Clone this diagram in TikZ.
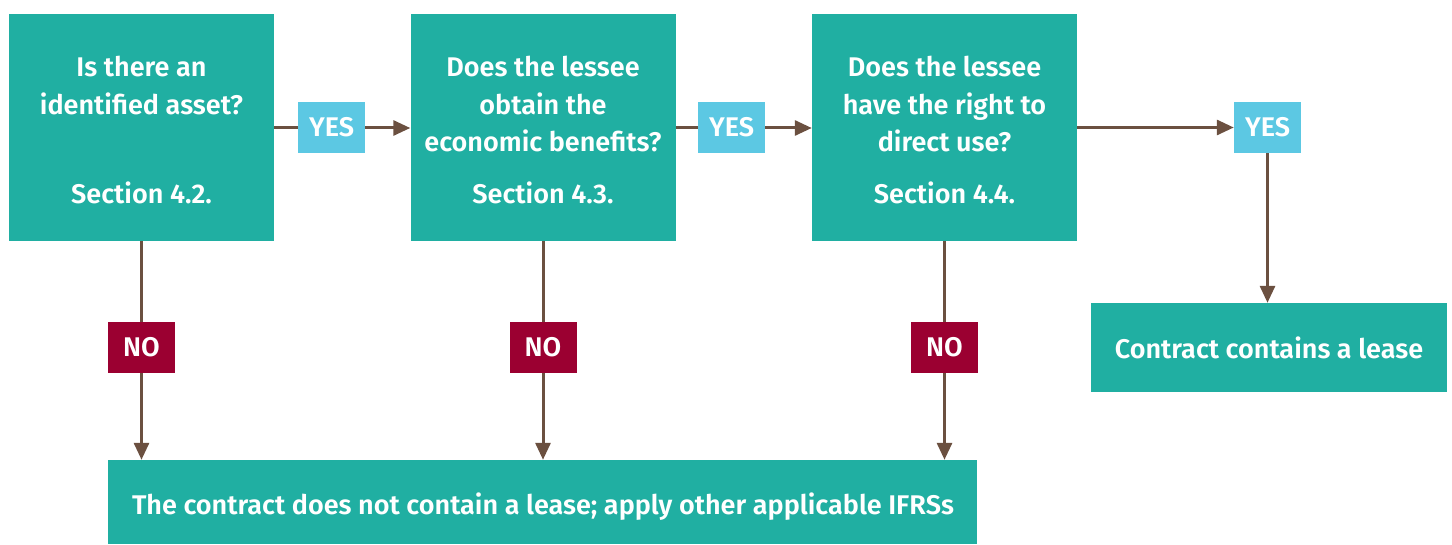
\documentclass[tikz,border=0pt]{standalone}
\usepackage{fontspec}
\setmainfont{Fira Sans}[UprightFont=* SemiBold, BoldFont=* Bold]
\usetikzlibrary{arrows.meta}
\definecolor{teal1}{RGB}{32,175,162}
\definecolor{yesblue}{RGB}{92,200,227}
\definecolor{nored}{RGB}{155,0,49}
\definecolor{arrowbrown}{RGB}{107,80,64}
\tikzset{
  qbox/.style={fill=teal1, draw=none, minimum width=265pt, minimum height=227pt, inner sep=0pt},
  txt/.style={text=white, font=\fontsize{27}{32}\selectfont, anchor=base, inner sep=0pt},
  yestag/.style={fill=yesblue, text=white, minimum width=67pt, minimum height=51pt, inner sep=0pt, font=\fontsize{27}{32}\selectfont},
  notag/.style={fill=nored, text=white, minimum width=67pt, minimum height=51pt, inner sep=0pt, font=\fontsize{27}{32}\selectfont},
  flow/.style={draw=arrowbrown, line width=3pt, -{Triangle[length=17pt,width=15pt]}},
  plain/.style={draw=arrowbrown, line width=3pt}
}
\begin{document}
\begin{tikzpicture}[x=1pt,y=-1pt]
\useasboundingbox (0,0) rectangle (1452,545);
% question boxes
\node[qbox] (q1) at (141.5,127.5) {};
\node[qbox] (q2) at (543,127.5) {};
\node[qbox] (q3) at (944.5,127.5) {};
% outcome boxes
\node[fill=teal1, minimum width=869pt, minimum height=84pt, inner sep=0pt] (nolease) at (542.5,502) {};
\node[fill=teal1, minimum width=356pt, minimum height=89pt, inner sep=0pt] (lease) at (1269,347.5) {};
% box texts
\node[txt] (t1a) at (141.5,77) {Is there an};
\node[txt] (t1b) at (141.5,115) {identified asset?};
\node[txt] (t1c) at (141.5,204) {Section 4.2.};
\node[txt] (t2a) at (543,77) {Does the lessee};
\node[txt] (t2b) at (543,115) {obtain the};
\node[txt] (t2c) at (543,152) {economic benefits?};
\node[txt] (t2d) at (543,204) {Section 4.3.};
\node[txt] (t3a) at (944.5,77) {Does the lessee};
\node[txt] (t3b) at (944.5,115) {have the right to};
\node[txt] (t3c) at (944.5,152) {direct use?};
\node[txt] (t3d) at (944.5,204) {Section 4.4.};
\node[text=white, font=\fontsize{27}{32}\selectfont, inner sep=0pt] (tno) at (543,507) {The contract does not contain a lease; apply other applicable IFRSs};
\node[text=white, font=\fontsize{27}{32}\selectfont, inner sep=0pt] (tyes) at (1269,348) {Contract contains a lease};
% connectors
\path[flow] (q1.east |- 0,128) -- (q2.west |- 0,128);
\path[flow] (q2.east |- 0,128) -- (q3.west |- 0,128);
\node[yestag] (y3) at (1267.5,127.5) {YES};
\path[flow] (q3.east |- y3.west) -- (y3.west);
\path[flow] (y3.south) -- (y3.south |- lease.north);
\path[flow] (q1.south) -- (q1.south |- nolease.north);
\path[flow] (q2.south) -- (q2.south |- nolease.north);
\path[flow] (q3.south) -- (q3.south |- nolease.north);
% decision tags
\node[yestag] (y1) at (331.5,127.5) {YES};
\node[yestag] (y2) at (731.5,127.5) {YES};
\node[notag] (n1) at (141.5,347.5) {NO};
\node[notag] (n2) at (543,347.5) {NO};
\node[notag] (n3) at (944.5,347.5) {NO};
\end{tikzpicture}
\end{document}
